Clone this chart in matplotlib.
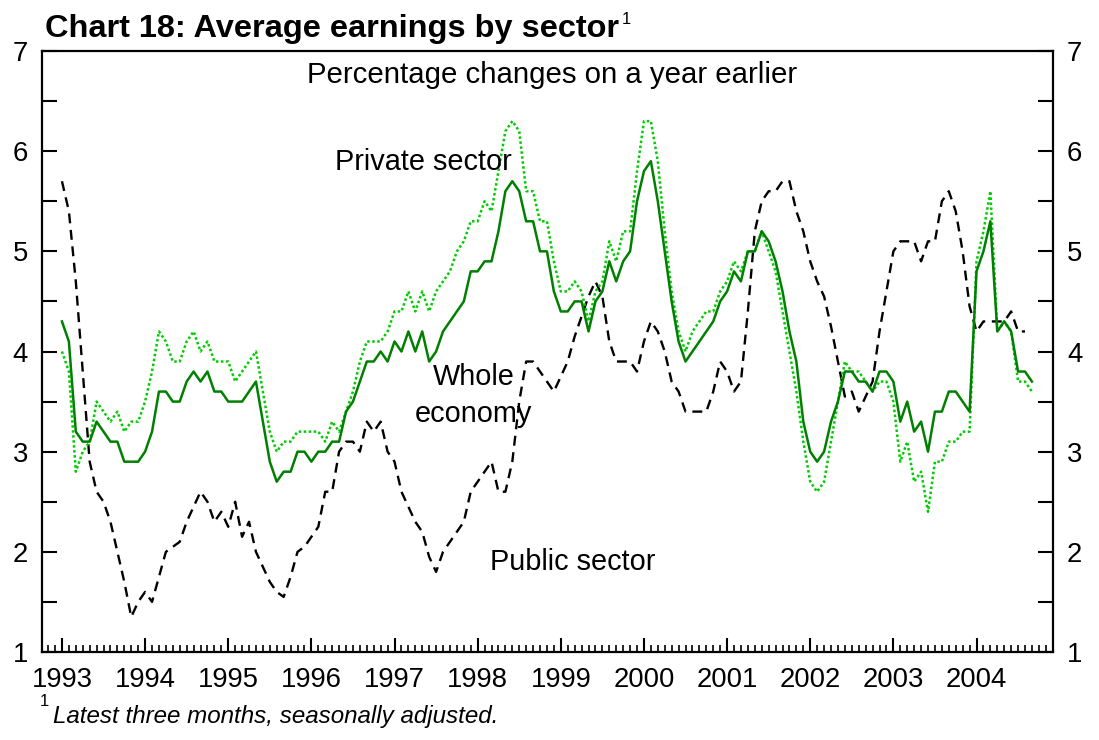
import numpy as np
import matplotlib
matplotlib.use('Agg')
import matplotlib.pyplot as plt
from matplotlib.ticker import MultipleLocator

plt.rcParams['font.family'] = ['Liberation Sans', 'DejaVu Sans']

# monthly data, Jan 1993 - Sep 2004
start_year = 1993
whole_economy = [4.3, 4.1, 3.2, 3.1, 3.1, 3.3, 3.2, 3.1, 3.1, 2.9, 2.9, 2.9,
                 3.0, 3.2, 3.6, 3.6, 3.5, 3.5, 3.7, 3.8, 3.7, 3.8, 3.6, 3.6,
                 3.5, 3.5, 3.5, 3.6, 3.7, 3.3, 2.9, 2.7, 2.8, 2.8, 3.0, 3.0,
                 2.9, 3.0, 3.0, 3.1, 3.1, 3.4, 3.5, 3.7, 3.9, 3.9, 4.0, 3.9,
                 4.1, 4.0, 4.2, 4.0, 4.2, 3.9, 4.0, 4.2, 4.3, 4.4, 4.5, 4.8,
                 4.8, 4.9, 4.9, 5.2, 5.6, 5.7, 5.6, 5.3, 5.3, 5.0, 5.0, 4.6,
                 4.4, 4.4, 4.5, 4.5, 4.2, 4.5, 4.6, 4.9, 4.7, 4.9, 5.0, 5.5,
                 5.8, 5.9, 5.5, 5.0, 4.5, 4.1, 3.9, 4.0, 4.1, 4.2, 4.3, 4.5,
                 4.6, 4.8, 4.7, 5.0, 5.0, 5.2, 5.1, 4.9, 4.6, 4.2, 3.9, 3.3,
                 3.0, 2.9, 3.0, 3.3, 3.5, 3.8, 3.8, 3.7, 3.7, 3.6, 3.8, 3.8,
                 3.7, 3.3, 3.5, 3.2, 3.3, 3.0, 3.4, 3.4, 3.6, 3.6, 3.5, 3.4,
                 4.8, 5.0, 5.3, 4.2, 4.3, 4.2, 3.8, 3.8, 3.7]
private_sector = [4.0, 3.8, 2.8, 3.0, 3.1, 3.5, 3.4, 3.3, 3.4, 3.2, 3.3, 3.3,
                  3.5, 3.8, 4.2, 4.1, 3.9, 3.9, 4.1, 4.2, 4.0, 4.1, 3.9, 3.9,
                  3.9, 3.7, 3.8, 3.9, 4.0, 3.6, 3.2, 3.0, 3.1, 3.1, 3.2, 3.2,
                  3.2, 3.2, 3.1, 3.3, 3.2, 3.4, 3.6, 3.9, 4.1, 4.1, 4.1, 4.2,
                  4.4, 4.4, 4.6, 4.4, 4.6, 4.4, 4.6, 4.7, 4.8, 5.0, 5.1, 5.3,
                  5.3, 5.5, 5.4, 5.8, 6.2, 6.3, 6.2, 5.6, 5.6, 5.3, 5.3, 4.9,
                  4.6, 4.6, 4.7, 4.6, 4.3, 4.6, 4.7, 5.1, 4.9, 5.2, 5.2, 5.8,
                  6.3, 6.3, 5.9, 5.2, 4.6, 4.2, 4.0, 4.2, 4.3, 4.4, 4.4, 4.6,
                  4.7, 4.9, 4.8, 5.0, 5.0, 5.2, 5.0, 4.8, 4.4, 4.0, 3.6, 3.1,
                  2.7, 2.6, 2.7, 3.1, 3.5, 3.9, 3.8, 3.8, 3.7, 3.6, 3.7, 3.7,
                  3.5, 2.9, 3.1, 2.7, 2.8, 2.4, 2.9, 2.9, 3.1, 3.1, 3.2, 3.2,
                  4.9, 5.2, 5.6, 4.2, 4.3, 4.2, 3.7, 3.7, 3.6]
public_sector = [5.7, 5.4, 4.7, 3.8, 2.9, 2.6, 2.5, 2.3, 2.0, 1.7, 1.35, 1.5,
                 1.6, 1.5, 1.75, 2.0, 2.05, 2.1, 2.3, 2.45, 2.6, 2.5, 2.3, 2.4,
                 2.25, 2.5, 2.15, 2.3, 2.0, 1.85, 1.7, 1.6, 1.55, 1.75, 2.0, 2.05,
                 2.15, 2.25, 2.6, 2.6, 3.0, 3.1, 3.1, 3.0, 3.3, 3.2, 3.3, 3.0,
                 2.9, 2.6, 2.45, 2.3, 2.2, 1.95, 1.8, 2.0, 2.1, 2.2, 2.3, 2.6,
                 2.7, 2.8, 2.9, 2.6, 2.6, 2.9, 3.5, 3.9, 3.9, 3.8, 3.7, 3.6,
                 3.75, 3.9, 4.15, 4.35, 4.55, 4.7, 4.55, 4.1, 3.9, 3.9, 3.9, 3.8,
                 4.1, 4.3, 4.2, 4.0, 3.7, 3.6, 3.4, 3.4, 3.4, 3.4, 3.6, 3.9,
                 3.8, 3.6, 3.7, 4.4, 5.2, 5.5, 5.6, 5.6, 5.7, 5.7, 5.4, 5.2,
                 4.9, 4.7, 4.55, 4.25, 3.9, 3.55, 3.6, 3.4, 3.55, 3.7, 4.2, 4.6,
                 5.0, 5.1, 5.1, 5.1, 4.9, 5.1, 5.1, 5.5, 5.6, 5.4, 5.0, 4.45,
                 4.2, 4.3, 4.3, 4.3, 4.3, 4.4, 4.2, 4.2]
year_labels = list(range(1993, 2005))

t_whole = start_year + np.arange(len(whole_economy)) / 12
t_private = start_year + np.arange(len(private_sector)) / 12
t_public = start_year + np.arange(len(public_sector)) / 12

fig = plt.figure(figsize=(10.99, 7.40), dpi=100)
ax = fig.add_axes([42/1099, 1-652/740, (1053-42)/1099, (652-51)/740])

ax.plot(t_public, public_sector, color='black', lw=1.7, dashes=(4.2, 2.8))
ax.plot(t_private, private_sector, color='#00cc00', lw=1.8, dashes=(1, 1))
ax.plot(t_whole, whole_economy, color='#008000', lw=1.8)

ax.set_xlim(1992.76, 2004.92)
ax.set_ylim(1, 7)

ax.xaxis.set_minor_locator(MultipleLocator(1/12))
ax.set_xticks(year_labels)
ax.set_xticklabels([str(y) for y in year_labels])
ax.yaxis.set_major_locator(MultipleLocator(1))
ax.yaxis.set_minor_locator(MultipleLocator(0.5))

ax.tick_params(axis='x', which='major', direction='in', length=10, width=1.5,
               labelsize=19.8, pad=11)
ax.tick_params(axis='x', which='minor', direction='in', length=5, width=1.2)
ax.tick_params(axis='y', which='both', direction='in', length=10.5, width=1.5,
               labelsize=19.8, pad=10, left=True, right=True,
               labelleft=True, labelright=True)
for s in ax.spines.values():
    s.set_linewidth(1.6)

ax.text(1998.89, 6.68, 'Percentage changes on a year earlier', fontsize=21.2,
        ha='center', va='baseline')
ax.text(1997.35, 5.81, 'Private sector', fontsize=20.8, ha='center', va='baseline')
ax.text(1997.95, 3.67, 'Whole', fontsize=20.8, ha='center', va='baseline')
ax.text(1997.95, 3.30, 'economy', fontsize=20.8, ha='center', va='baseline')
ax.text(1999.14, 1.82, 'Public sector', fontsize=20.8, ha='center', va='baseline')

fig.text(45/1099, 1-37/740, 'Chart 18: Average earnings by sector', fontsize=23.4,
         fontweight='bold', va='baseline')
fig.text(622/1099, 1-24/740, '1', fontsize=12, va='baseline')
fig.text(40/1099, 1-706/740, '1', fontsize=12, va='baseline')
fig.text(53/1099, 1-723/740, 'Latest three months, seasonally adjusted.',
         fontsize=17.4, style='italic', va='baseline')

fig.savefig('out.png', dpi=100)
